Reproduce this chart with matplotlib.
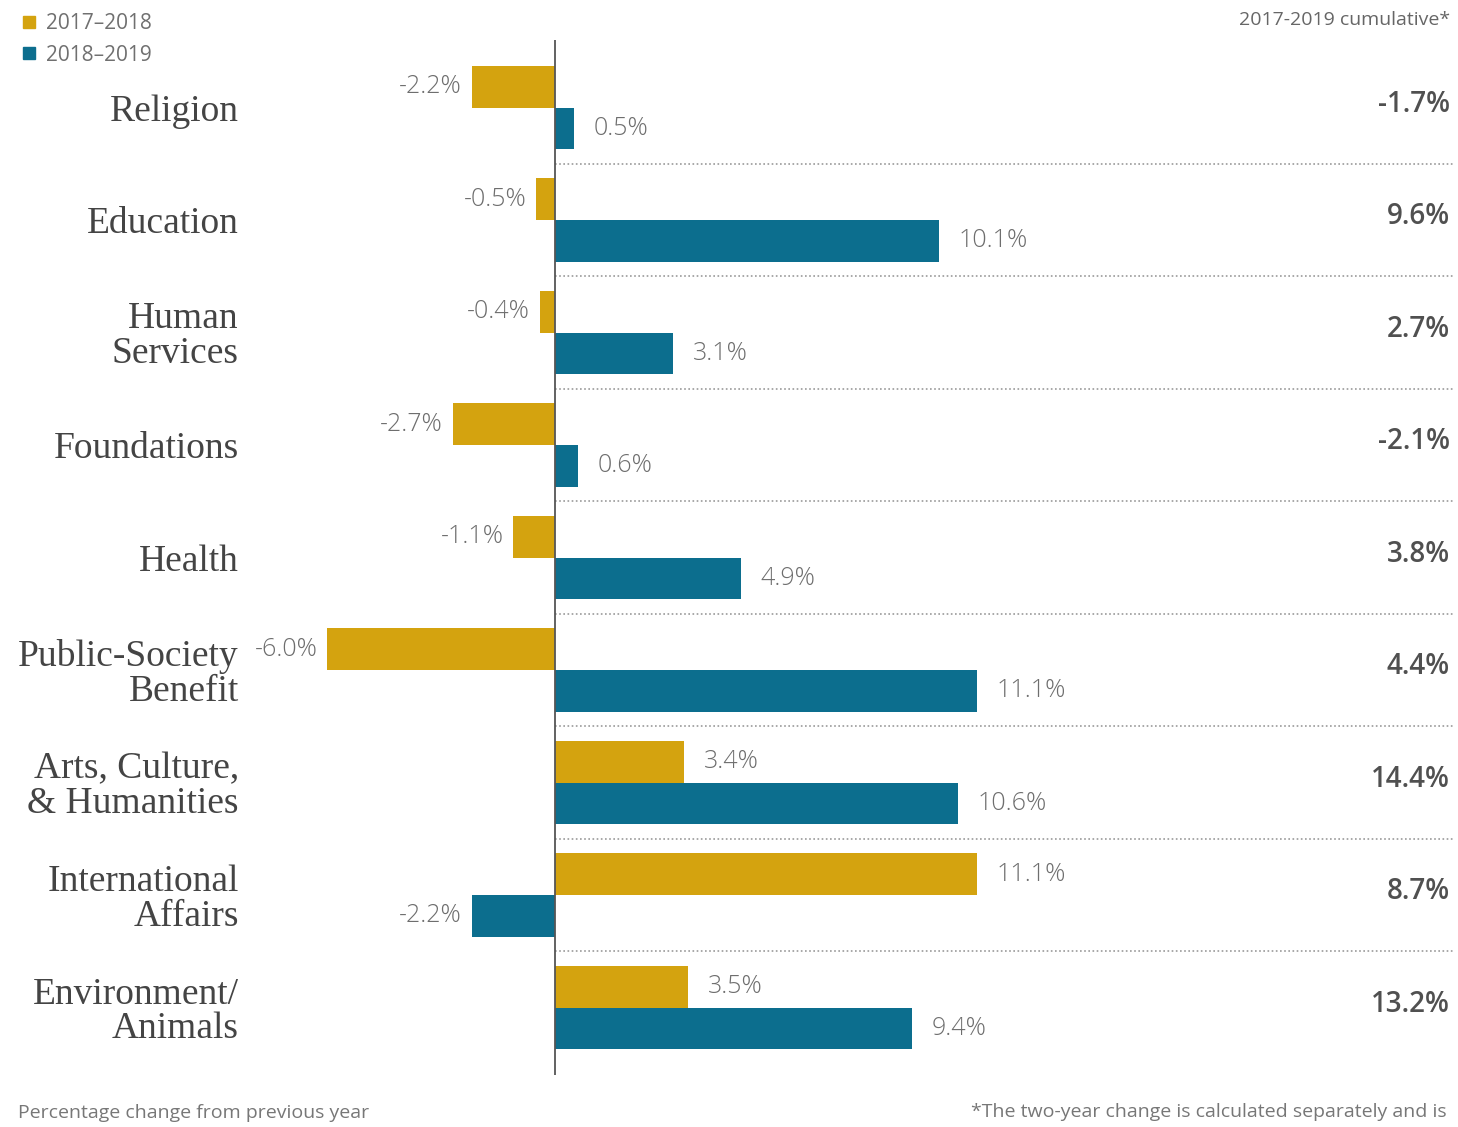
import numpy as np
import matplotlib
matplotlib.use("Agg")
import matplotlib.pyplot as plt
from matplotlib.lines import Line2D
from matplotlib.transforms import blended_transform_factory

categories = ["Religion", "Education", "Human\nServices", "Foundations", "Health",
              "Public-Society\nBenefit", "Arts, Culture,\n& Humanities",
              "International\nAffairs", "Environment/\nAnimals"]
change_2017_2018 = [-2.2, -0.5, -0.4, -2.7, -1.1, -6.0, 3.4, 11.1, 3.5]
change_2018_2019 = [0.5, 10.1, 3.1, 0.6, 4.9, 11.1, 10.6, -2.2, 9.4]
cumulative = [-1.7, 9.6, 2.7, -2.1, 3.8, 4.4, 14.4, 8.7, 13.2]
series_labels = ["2017\u20132018", "2018\u20132019"]

gold = "#D4A30F"
blue = "#0C6E8E"
label_grey = "#6e6e6e"

W, H = 1458, 1127
fig = plt.figure(figsize=(W / 100, H / 100), dpi=100)
# axes placed in pixel terms: left 250, right 1455, top 40, bottom 1075
ax = fig.add_axes([250 / W, 1 - 1075 / H, 1205 / W, 1035 / H])

y = np.arange(len(categories))
bh = 0.37
ax.barh(y - bh / 2, change_2017_2018, height=bh, color=gold)
ax.barh(y + bh / 2, change_2018_2019, height=bh, color=blue)

ax.set_xlim(-8.03, 23.68)
ax.set_ylim(len(categories) - 0.4, -0.6)
ax.axvline(0, color="#555555", lw=1.3, zorder=3)

# dotted separators between groups
for i in range(len(categories) - 1):
    ax.plot([0, 23.68], [i + 0.5, i + 0.5], color="#9a9a9a", lw=1.2,
            ls=(0, (1, 1.5)), zorder=1)

# value labels
def put_labels(vals, offset):
    for i, v in enumerate(vals):
        if v >= 0:
            ax.annotate(f"{v:.1f}%", (v, i + offset), xytext=(14, 0),
                        textcoords="offset points", ha="left", va="center",
                        fontsize=18, color=label_grey, family="Open Sans",
                        fontweight="light")
        else:
            ax.annotate(f"{v:.1f}%", (v, i + offset), xytext=(-7, 0),
                        textcoords="offset points", ha="right", va="center",
                        fontsize=18, color=label_grey, family="Open Sans",
                        fontweight="light")

put_labels(change_2017_2018, -bh / 2)
put_labels(change_2018_2019, bh / 2)

# cumulative column on the right
trans = blended_transform_factory(ax.transAxes, ax.transData)
for i, v in enumerate(cumulative):
    ax.text(0.9955, i - 0.03, f"{v:.1f}%", transform=trans, ha="right", va="center",
            fontsize=20, color="#505050", family="Open Sans", fontweight="semibold")

ax.set_yticks(y, categories)
ax.tick_params(axis="y", length=0, pad=8)
for lbl in ax.get_yticklabels():
    lbl.set_fontfamily("Liberation Serif")
    lbl.set_fontsize(27)
    lbl.set_color("#444444")
    lbl.set_linespacing(1.0)
ax.set_xticks([])
for s in ax.spines.values():
    s.set_visible(False)

handles = [Line2D([], [], marker="s", ls="none", ms=9, color=gold),
           Line2D([], [], marker="s", ls="none", ms=9, color=blue)]
fig.legend(handles, series_labels, loc="upper left", bbox_to_anchor=(0.0, 1.005),
           frameon=False, handletextpad=0.3, labelspacing=0.5, handlelength=1.0,
           prop={"family": "Open Sans", "size": 15}, labelcolor="#707070")

fig.text(1450 / W, 1 - 20 / H, "2017-2019 cumulative*", ha="right", va="center",
         fontsize=14, color="#666666", family="Open Sans")
fig.text(18 / W, 1 - 1113 / H, "Percentage change from previous year", ha="left",
         va="center", fontsize=14, color="#777777", family="Open Sans")
fig.text(1447 / W, 1 - 1112 / H, "*The two-year change is calculated separately and is",
         ha="right", va="center", fontsize=14, color="#777777", family="Open Sans")

fig.savefig("out.png", dpi=100)
